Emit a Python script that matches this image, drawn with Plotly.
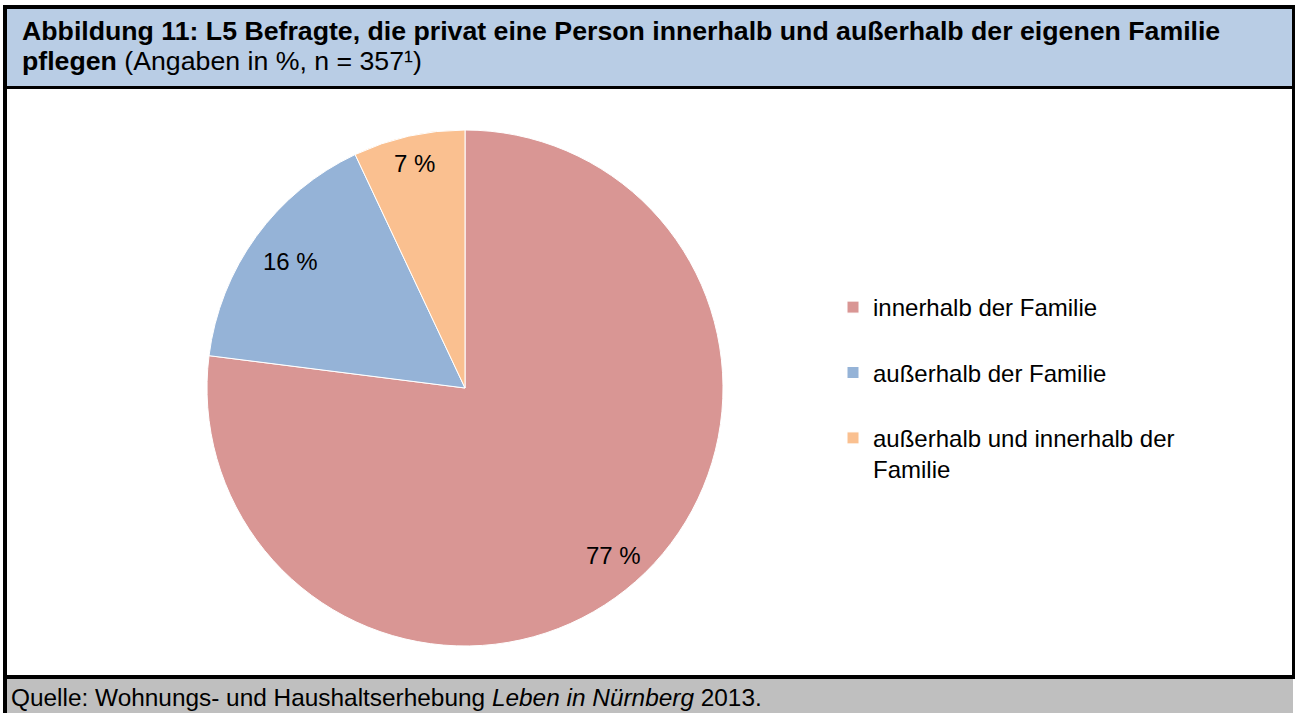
import math
import plotly.graph_objects as go

W, H = 1295, 713

labels = ["innerhalb der Familie", "außerhalb der Familie", "außerhalb und innerhalb der<br>Familie"]
values = [77, 16, 7]
value_text = ["77 %", "16 %", "7 %"]
colors = ["#D99694", "#95B3D7", "#FAC090"]
label_radius = [0.868, 0.836, 0.89]

title_line1 = "<b>Abbildung 11: L5 Befragte, die privat eine Person innerhalb und außerhalb der eigenen Familie</b>"
title_line2 = "<b>pflegen</b> (Angaben in %, n = 357¹)"
source_text = "Quelle: Wohnungs- und Haushaltserhebung <i>Leben in Nürnberg</i> 2013."

FONT = "Arial, Liberation Sans, sans-serif"

# pie geometry (pixels)
cx, cy, R = 465, 388, 258

def px(x):
    return x / W

def py(y):
    return 1 - y / H

legend_names = [l + "<br>\u00a0" if i < 2 else l for i, l in enumerate(labels)]

fig = go.Figure()
fig.add_trace(go.Pie(
    labels=legend_names,
    values=values,
    sort=False,
    direction="clockwise",
    rotation=0,
    marker=dict(colors=colors, line=dict(color="white", width=1)),
    textinfo="none",
    hoverinfo="label+percent",
    domain=dict(x=[px(cx - R), px(cx + R)], y=[py(cy + R), py(cy - R)]),
))

shapes = []
# background bands
shapes.append(dict(type="rect", xref="paper", yref="paper", x0=px(3), x1=px(1294), y0=py(87), y1=py(7),
                   fillcolor="#B9CDE5", line=dict(width=0), layer="below"))
shapes.append(dict(type="rect", xref="paper", yref="paper", x0=px(3), x1=px(1293), y0=py(713), y1=py(677),
                   fillcolor="#BFBFBF", line=dict(width=0), layer="below"))
# borders
def bar(x0, y0, x1, y1):
    return dict(type="rect", xref="paper", yref="paper", x0=px(x0), x1=px(x1), y0=py(y1), y1=py(y0),
                fillcolor="black", line=dict(width=0), layer="above")
shapes += [
    bar(3, 5, 1295, 9),      # top
    bar(3, 86, 1295, 89),    # under title
    bar(3, 675, 1295, 679),  # above footer
    bar(3, 5, 7, 713),       # left
    bar(1292, 5, 1295, 679), # right
]

annotations = [
    dict(text=title_line1, x=px(20), y=py(31), xref="paper", yref="paper", xanchor="left", yanchor="middle",
         align="left", showarrow=False, font=dict(family=FONT, size=26.7, color="black")),
    dict(text=title_line2, x=px(20), y=py(61), xref="paper", yref="paper", xanchor="left", yanchor="middle",
         align="left", showarrow=False, font=dict(family=FONT, size=26.7, color="black")),
    dict(text=source_text, x=px(9), y=py(697), xref="paper", yref="paper", xanchor="left", yanchor="middle",
         align="left", showarrow=False, font=dict(family=FONT, size=24.4, color="black")),
]

# data labels, placed along each slice's mid-angle
cum = 0
total = sum(values)
for v, t, rf in zip(values, value_text, label_radius):
    mid = (cum + v / 2) / total * 2 * math.pi
    cum += v
    lx = cx + rf * R * math.sin(mid)
    ly = cy - rf * R * math.cos(mid)
    annotations.append(dict(text=t, x=px(lx), y=py(ly), xref="paper", yref="paper",
                            xanchor="center", yanchor="middle", showarrow=False,
                            font=dict(family=FONT, size=24, color="black")))

fig.update_layout(
    width=W, height=H,
    margin=dict(l=0, r=0, t=0, b=0),
    paper_bgcolor="white",
    plot_bgcolor="white",
    shapes=shapes,
    annotations=annotations,
    showlegend=True,
    legend=dict(x=px(833), y=py(285), xanchor="left", yanchor="top",
                font=dict(family=FONT, size=24, color="black"),
                valign="top", bgcolor="rgba(0,0,0,0)", traceorder="normal"),
)

fig.write_html("out.html", config={"displayModeBar": False},
               post_script="document.body.style.margin='0';")
